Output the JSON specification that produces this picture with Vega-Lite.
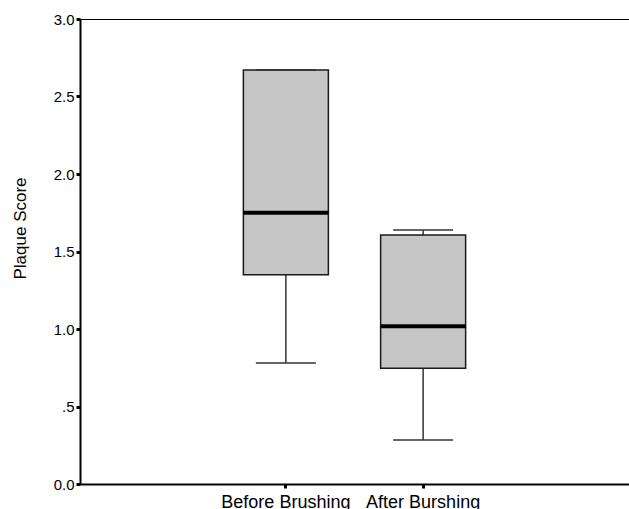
{
  "$schema": "https://vega.github.io/schema/vega-lite/v6.json",
  "autosize": {"type": "none"},
  "width": 549,
  "height": 465,
  "padding": {"left": 80, "top": 19, "right": 0, "bottom": 25},
  "background": "white",
  "config": {
    "view": {"stroke": "black", "strokeWidth": 1},
    "font": "Liberation Sans"
  },
  "data": {
    "values": [
      {"group": "Before Brushing", "lower": 0.781, "q1": 1.35, "median": 1.75, "q3": 2.671, "upper": 2.671},
      {"group": "After Burshing", "lower": 0.284, "q1": 0.746, "median": 1.017, "q3": 1.606, "upper": 1.639}
    ]
  },
  "encoding": {
    "x": {
      "field": "group",
      "type": "nominal",
      "sort": ["Before Brushing", "After Burshing"],
      "scale": {"type": "band", "paddingInner": 0, "paddingOuter": 1.05},
      "axis": {
        "title": null,
        "labelAngle": 0,
        "labelFontSize": 18,
        "labelColor": "black",
        "labelPadding": 5,
        "domainColor": "black",
        "domainWidth": 2,
        "tickColor": "black",
        "tickWidth": 3,
        "tickSize": 4
      }
    }
  },
  "layer": [
    {
      "mark": {"type": "rule", "color": "#333333", "strokeWidth": 1.5},
      "encoding": {
        "y": {
          "field": "lower",
          "type": "quantitative",
          "scale": {"domain": [0, 3], "nice": false},
          "axis": {
            "title": "Plaque Score",
            "titleFontSize": 17,
            "titleFontWeight": "normal",
            "titleColor": "black",
            "titleX": -55,
            "titleY": 209,
            "titleAngle": -90,
            "titleAlign": "center",
            "titleBaseline": "alphabetic",
            "values": [0, 0.5, 1, 1.5, 2, 2.5, 3],
            "labelExpr": "datum.value == 0.5 ? '.5' : format(datum.value, '.1f')",
            "labelFontSize": 15,
            "labelColor": "black",
            "labelPadding": 2,
            "grid": false,
            "domainColor": "black",
            "domainWidth": 2,
            "tickColor": "black",
            "tickWidth": 3,
            "tickSize": 4
          }
        },
        "y2": {"field": "q1"}
      }
    },
    {
      "mark": {"type": "rule", "color": "#333333", "strokeWidth": 1.5},
      "encoding": {
        "y": {"field": "q3", "type": "quantitative"},
        "y2": {"field": "upper"}
      }
    },
    {
      "mark": {"type": "bar", "width": 85, "fill": "#c6c6c6", "stroke": "#1a1a1a", "strokeWidth": 1.5},
      "encoding": {
        "y": {"field": "q1", "type": "quantitative"},
        "y2": {"field": "q3"}
      }
    },
    {
      "mark": {"type": "tick", "size": 85, "thickness": 4, "color": "black", "opacity": 1},
      "encoding": {
        "y": {"field": "median", "type": "quantitative"}
      }
    },
    {
      "mark": {"type": "tick", "size": 60, "thickness": 1.5, "color": "#333333", "opacity": 1},
      "encoding": {
        "y": {"field": "lower", "type": "quantitative"}
      }
    },
    {
      "mark": {"type": "tick", "size": 60, "thickness": 1.5, "color": "#333333", "opacity": 1},
      "encoding": {
        "y": {"field": "upper", "type": "quantitative"}
      }
    }
  ]
}
